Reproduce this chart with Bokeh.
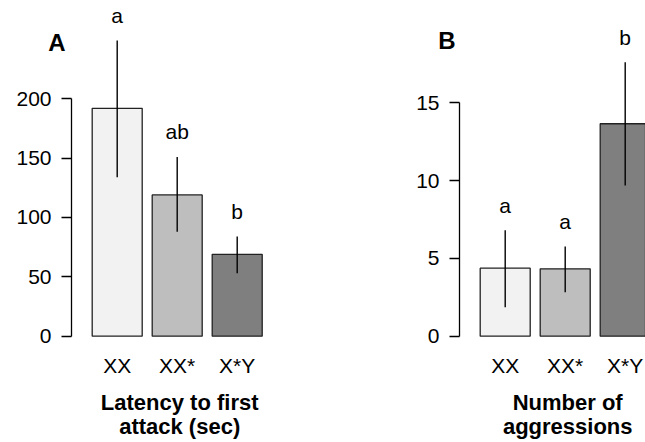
from bokeh.plotting import figure
from bokeh.models import FixedTicker, Range1d, LinearAxis
from bokeh.layouts import row
from bokeh.core.properties import value
from bokeh.embed import file_html
from bokeh.resources import INLINE

# ---- data ----
categories = ["XX", "XX*", "X*Y"]
bar_colors = ["#F2F2F2", "#BEBEBE", "#7F7F7F"]

latency_mean = [192, 119, 69]
latency_lower = [134, 88, 53]
latency_upper = [249, 151, 84]
latency_letters = ["a", "ab", "b"]
latency_ticks = [0, 50, 100, 150, 200]
latency_title = ["Latency to first", "attack (sec)"]

aggr_mean = [4.37, 4.33, 13.65]
aggr_lower = [1.86, 2.83, 9.68]
aggr_upper = [6.8, 5.76, 17.6]
aggr_letters = ["a", "a", "b"]
aggr_ticks = [0, 5, 10, 15]
aggr_title = ["Number of", "aggressions"]

FONT = value("Liberation Sans")
FS = "21px"

# bar positions as in R barplot (width 1, space 0.2)
xs = [0.7 + 1.2 * i for i in range(len(categories))]
xmid = 1.95
H = 442


def panel(tag, tag_y, mean, lower, upper, letters, ticks, title, width, left, x_rng, y_rng, tag_standoff):
    p = figure(width=width, height=H, output_backend="svg", toolbar_location=None,
               x_range=Range1d(*x_rng), y_range=Range1d(*y_rng),
               min_border_left=left, min_border_right=0, min_border_top=0, min_border_bottom=0)
    p.xaxis.visible = False
    p.grid.visible = False
    p.outline_line_color = None
    p.background_fill_color = "white"
    p.border_fill_color = "white"

    ax = p.yaxis[0]
    ax.ticker = FixedTicker(ticks=ticks)
    ax.bounds = (ticks[0], ticks[-1])
    ax.axis_line_width = 1.3
    ax.axis_line_color = "black"
    ax.major_tick_line_color = "black"
    ax.major_tick_line_width = 1.3
    ax.major_tick_out = 10
    ax.major_tick_in = 0
    ax.minor_tick_line_color = None
    ax.major_label_standoff = 10
    ax.major_label_text_font = "Liberation Sans"
    ax.major_label_text_font_size = FS
    ax.major_label_text_color = "black"

    # panel tag ("A"/"B"): the single label of a line-less outer axis,
    # pulled right over the tick-label column by a negative standoff
    tag_ax = LinearAxis(ticker=FixedTicker(ticks=[tag_y]), major_label_overrides={tag_y: tag},
                        axis_line_color=None, major_tick_line_color=None,
                        minor_tick_line_color=None, major_tick_out=0, major_tick_in=0,
                        minor_tick_out=0, minor_tick_in=0,
                        major_label_standoff=tag_standoff,
                        major_label_text_font="Liberation Sans",
                        major_label_text_font_size="24px",
                        major_label_text_font_style="bold",
                        major_label_text_color="black")
    p.add_layout(tag_ax, "left")

    p.vbar(x=xs, top=mean, bottom=0, width=1.0, fill_color=bar_colors,
           line_color="#222222", line_width=1.3)
    p.segment(x0=xs, y0=lower, x1=xs, y1=upper, line_color="black", line_width=1.4)

    p.text(x=xs, y=upper, text=letters, text_align="center", text_baseline="alphabetic",
           y_offset=-25, text_font=FONT, text_font_size=FS, text_color="black")
    p.text(x=xs, y=[0] * len(xs), text=categories, text_align="center",
           text_baseline="alphabetic", y_offset=29, text_font=FONT,
           text_font_size=FS, text_color="black")
    p.text(x=[xmid, xmid], y=[0, 0], text=title, text_align="center",
           text_baseline="alphabetic", y_offset=[66, 90], text_font=FONT,
           text_font_size="22px", text_font_style="bold", text_color="black")
    return p


pA = panel("A", 247, latency_mean, latency_lower, latency_upper, latency_letters, latency_ticks,
           latency_title, 320, 71, (-0.214, 4.766), (-89.55, 282.8), -52)
pB = panel("B", 19, aggr_mean, aggr_lower, aggr_upper, aggr_letters, aggr_ticks,
           aggr_title, 325, 139, (-0.214, 3.506), (-6.83, 21.57), -42)

layout = row(pA, pB)
open("out.html", "w").write(file_html(layout, INLINE))
